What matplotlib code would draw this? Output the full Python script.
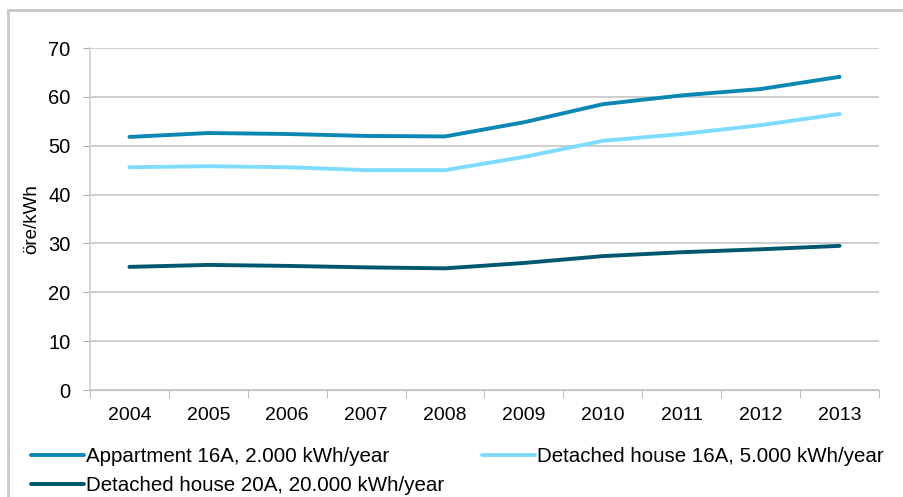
import matplotlib.pyplot as plt
from matplotlib.patches import Rectangle

years = ["2004", "2005", "2006", "2007", "2008", "2009", "2010", "2011", "2012", "2013"]
apartment_16a = [51.8, 52.6, 52.4, 52.0, 51.9, 54.8, 58.5, 60.3, 61.6, 64.1]
house_16a = [45.6, 45.8, 45.6, 45.0, 45.0, 47.7, 51.0, 52.4, 54.2, 56.5]
house_20a = [25.2, 25.6, 25.4, 25.1, 24.9, 26.0, 27.4, 28.2, 28.8, 29.5]

labels = ["Appartment 16A, 2.000 kWh/year",
          "Detached house 16A, 5.000 kWh/year",
          "Detached house 20A, 20.000 kWh/year"]
colors = ["#0B87B3", "#7FDCFF", "#00576F"]

plt.rcParams['font.family'] = ['Liberation Sans', 'DejaVu Sans']

fig = plt.figure(figsize=(9.04, 4.97), dpi=100)
fig.patches.append(Rectangle((8 / 904, -0.01), 1.0, 1 - 10 / 497 + 0.01,
                             transform=fig.transFigure, fill=False,
                             edgecolor="#c8c8c8", linewidth=2))
ax = fig.add_axes([90 / 904, 1 - 390 / 497, (879 - 90) / 904, (390 - 48) / 497])

x = list(range(len(years)))
for series, lab, c in zip([apartment_16a, house_16a, house_20a], labels, colors):
    ax.plot(x, series, color=c, linewidth=2.8, label=lab, solid_capstyle="round")

ax.set_xlim(-0.5, len(years) - 0.5)
ax.set_ylim(0, 70)
ax.set_yticks(range(0, 71, 10))
ax.set_xticks(x)
ax.set_xticklabels(years)
ax.set_xticks([i - 0.5 for i in range(len(years) + 1)], minor=True)
ax.tick_params(axis="x", which="major", length=0, labelsize=14, pad=12)
ax.tick_params(axis="x", which="minor", length=6, color="#b0b0b0", direction="out")
ax.tick_params(axis="y", length=5, color="#b0b0b0", labelsize=14.5, pad=9)
ax.grid(axis="y", color="#c6c6c6", linewidth=1.2)
ax.set_axisbelow(True)
for s in ["top", "right"]:
    ax.spines[s].set_visible(False)
ax.spines["left"].set_color("#d0d0d0")
ax.spines["bottom"].set_color("#c0c0c0")
ax.spines["left"].set_linewidth(1.2)
ax.set_ylabel("öre/kWh", fontsize=13.5, labelpad=6)

handles, labs = ax.get_legend_handles_labels()
order = [0, 2, 1]
fig.legend([handles[i] for i in order], [labs[i] for i in order],
           loc="upper left", bbox_to_anchor=(31 / 904, 1 - 447 / 497),
           ncol=2, frameon=False, fontsize=14.8, handlelength=2.6, handletextpad=0.1,
           columnspacing=1.8, labelspacing=0.5, borderaxespad=0, borderpad=0)

fig.savefig("out.png", dpi=100)
